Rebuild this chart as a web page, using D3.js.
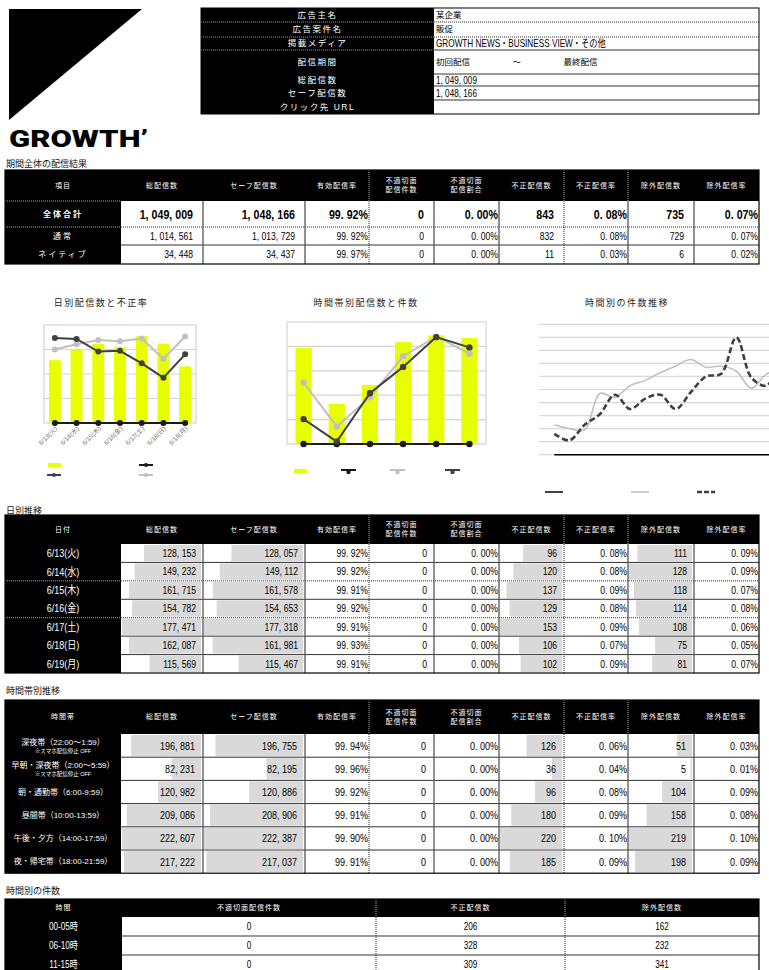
<!DOCTYPE html>
<html lang="ja">
<head>
<meta charset="UTF-8">
<title>配信結果レポート</title>
<script src="https://d3js.org/d3.v7.min.js"></script>
<style>
  body { margin: 0; background: #fff; }
  svg { display: block; font-family: "Liberation Sans", "Noto Sans CJK JP", sans-serif; }
</style>
</head>
<body>
<svg width="769" height="970"></svg>
<script>
// ---------- data ----------
const infoLabels = ["広告主名", "広告案件名", "掲載メディア", "配信期間", "総配信数", "セーフ配信数", "クリック先 URL"];
const infoValues = ["某企業", "販促", "GROWTH NEWS・BUSINESS VIEW・その他", "初回配信　　　　　〜　　　　　最終配信", "1,049,009", "1,048,166", ""];

const metricHeaders = ["総配信数", "セーフ配信数", "有効配信率", ["不適切面", "配信件数"], ["不適切面", "配信割合"],
  "不正配信数", "不正配信率", "除外配信数", "除外配信率"];

const summaryLabels = ["全体合計", "通常", "ネイティブ"];
const summaryTotal = [1049009, 1014561, 34448];
const summarySafe = [1048166, 1013729, 34437];
const summarySafeRate = [99.92, 99.92, 99.97];
const summaryInvalid = [0, 0, 0];
const summaryInvalidRate = [0, 0, 0];
const summaryFraud = [843, 832, 11];
const summaryFraudRate = [0.08, 0.08, 0.03];
const summaryExcl = [735, 729, 6];
const summaryExclRate = [0.07, 0.07, 0.02];

const days = ["6/13(火)", "6/14(水)", "6/15(木)", "6/16(金)", "6/17(土)", "6/18(日)", "6/19(月)"];
const dailyTotal = [128153, 149232, 161715, 154782, 177471, 162087, 115569];
const dailySafe = [128057, 149112, 161578, 154653, 177318, 161981, 115467];
const dailySafeRate = [99.92, 99.92, 99.91, 99.92, 99.91, 99.93, 99.91];
const dailyInvalid = [0, 0, 0, 0, 0, 0, 0];
const dailyInvalidRate = [0, 0, 0, 0, 0, 0, 0];
const dailyFraud = [96, 120, 137, 129, 153, 106, 102];
const dailyFraudRate = [0.08, 0.08, 0.09, 0.08, 0.09, 0.07, 0.09];
const dailyExcl = [111, 128, 118, 114, 108, 75, 81];
const dailyExclRate = [0.09, 0.09, 0.07, 0.08, 0.06, 0.05, 0.07];

const slots = [["深夜帯（22:00〜1:59）", "※スマホ配信停止 OFF"], ["早朝・深夜帯（2:00〜5:59）", "※スマホ配信停止 OFF"],
  "朝・通勤帯（6:00-9:59）", "昼間帯（10:00-13:59）", "午後・夕方（14:00-17:59）", "夜・帰宅帯（18:00-21:59）"];
const slotTotal = [196881, 82231, 120982, 209086, 222607, 217222];
const slotSafe = [196755, 82195, 120886, 208906, 222387, 217037];
const slotSafeRate = [99.94, 99.96, 99.92, 99.91, 99.90, 99.91];
const slotInvalid = [0, 0, 0, 0, 0, 0];
const slotInvalidRate = [0, 0, 0, 0, 0, 0];
const slotFraud = [126, 36, 96, 180, 220, 185];
const slotFraudRate = [0.06, 0.04, 0.08, 0.09, 0.10, 0.09];
const slotExcl = [51, 5, 104, 158, 219, 198];
const slotExclRate = [0.03, 0.01, 0.09, 0.08, 0.10, 0.09];

const hours = d3.range(24);
const hourInvalid = [0, 0, 0, 0, 0, 0, 0, 0, 0, 0, 0, 0, 0, 0, 0, 0];
const hourFraud = [23, 20, 19, 47, 44, 53, 57, 63, 68, 73, 67, 68, 64, 51, 62, 64];
const hourExcl = [16, 11, 23, 31, 46, 35, 43, 46, 35, 48, 60, 62, 90, 59, 53, 77];

const bucketLabels = ["00-05時", "06-10時", "11-15時"];
const bucketInvalid = [0, 0, 0];
const bucketFraud = [206, 328, 309];
const bucketExcl = [162, 232, 341];

// ---------- helpers ----------
const svg = d3.select("svg");
const fmtInt = v => d3.format(",")(v).replace(/,/g, ", ");
const fmtPct = v => d3.format(".2f")(v).replace(".", ". ") + "%";
const YELLOW = "#e8ff00", DARK = "#404040", LIGHT = "#c0c0c0", BLACK = "#1a1a1a";
const SQUEEZE = 0.82;

// condensed text: the report's numerals are narrow
function narrow(g, x, y, anchor, size, txt, opts = {}) {
  return g.append("text")
    .attr("transform", `translate(${x},${y}) scale(${SQUEEZE},1)`)
    .attr("dy", "0.36em").attr("text-anchor", anchor)
    .attr("font-size", size).attr("font-weight", opts.bold ? "bold" : null)
    .attr("fill", opts.fill || "#000").text(txt);
}

function sectionTitle(text, y) {
  svg.append("text").attr("x", 6).attr("y", y).attr("dy", "0.35em")
    .attr("font-size", 9).attr("fill", "#111").text(text);
}

// ---------- logo ----------
svg.append("path").attr("d", "M9,9H142L9,120Z").attr("fill", "#000");
svg.append("text").attr("x", 9).attr("y", 147).attr("font-family", "Roboto, sans-serif")
  .attr("font-weight", 900).attr("font-size", 24).attr("textLength", 139).attr("lengthAdjust", "spacingAndGlyphs")
  .text("GROWTH’");

// ---------- info table ----------
(function () {
  const g = svg.append("g");
  const edges = [8, 22, 37, 50, 74, 86, 100, 114];
  const L = 201, M = 434, R = 759;
  g.append("rect").attr("x", L).attr("y", 8).attr("width", R - L).attr("height", 106).attr("fill", "#fff");
  g.append("rect").attr("x", L).attr("y", 8).attr("width", M - L).attr("height", 106).attr("fill", "#000");
  infoLabels.forEach((s, i) => {
    const cy = (edges[i] + edges[i + 1]) / 2;
    g.append("text").attr("x", (L + M) / 2).attr("y", cy).attr("dy", "0.35em").attr("text-anchor", "middle")
      .attr("fill", "#fff").attr("font-size", 8.5).attr("letter-spacing", 1.5).text(s);
    const v = infoValues[i];
    if (i >= 4) narrow(g, M + 2, cy, "start", 10, v ? v.replace(/,/g, ", ") : v);
    else if (i === 2) narrow(g, M + 2, cy, "start", 10, v);
    else g.append("text").attr("x", M + 2).attr("y", cy).attr("dy", "0.35em").attr("font-size", 8.5).text(v);
    if (i < edges.length - 2) {
      const dotted = i < 2;
      g.append("line").attr("x1", M).attr("x2", R).attr("y1", edges[i + 1]).attr("y2", edges[i + 1])
        .attr("stroke", "#333").attr("stroke-dasharray", dotted ? "1,1" : null);
      if (i < 3) g.append("line").attr("x1", L).attr("x2", M).attr("y1", edges[i + 1]).attr("y2", edges[i + 1])
        .attr("stroke", "#999").attr("stroke-dasharray", "1,1");
    }
  });
  g.append("rect").attr("x", L).attr("y", 8).attr("width", R - L).attr("height", 106)
    .attr("fill", "none").attr("stroke", "#000");
})();

// ---------- generic table ----------
function drawTable(t) {
  const g = svg.append("g");
  const cols = t.cols, L = cols[0], R = cols[cols.length - 1];
  const bodyTop = t.top + t.headH;
  const edges = [bodyTop];
  t.rowH.forEach(h => edges.push(edges[edges.length - 1] + h));
  const B = edges[edges.length - 1];

  g.append("rect").attr("x", L).attr("y", t.top).attr("width", R - L).attr("height", B - t.top).attr("fill", "#fff");
  g.append("rect").attr("x", L).attr("y", t.top).attr("width", R - L).attr("height", t.headH).attr("fill", "#000");
  g.append("rect").attr("x", L).attr("y", bodyTop).attr("width", cols[1] - L).attr("height", B - bodyTop).attr("fill", "#000");

  // data bars (grow from the right edge)
  t.columns.forEach((c, ci) => {
    if (!c.bar) return;
    const x0 = cols[ci + 1], x1 = cols[ci + 2];
    const w = d3.scaleLinear().domain([0, d3.max(c.values)]).range([0, x1 - x0 - 3]);
    c.values.forEach((v, ri) => {
      g.append("rect").attr("x", x1 - 2 - w(v)).attr("y", edges[ri] + 1)
        .attr("width", w(v)).attr("height", edges[ri + 1] - edges[ri] - 2).attr("fill", "#d9d9d9");
    });
  });

  // header labels
  [t.firstHeader].concat(t.headers).forEach((h, i) => {
    const cx = (cols[i] + cols[i + 1]) / 2, cy = t.top + t.headH / 2;
    const lines = Array.isArray(h) ? h : [h];
    lines.forEach((s, k) => {
      g.append("text").attr("x", cx).attr("y", cy + (k - (lines.length - 1) / 2) * 9).attr("dy", "0.35em")
        .attr("text-anchor", "middle").attr("fill", "#fff").attr("font-size", 7).attr("letter-spacing", 1).text(s);
    });
  });

  // row labels
  t.labels.forEach((s, ri) => {
    const cy = (edges[ri] + edges[ri + 1]) / 2, cx = (cols[0] + cols[1]) / 2;
    const bold = t.boldRow === ri;
    if (Array.isArray(s)) {
      g.append("text").attr("x", cx).attr("y", cy - 3.5).attr("dy", "0.35em").attr("text-anchor", "middle")
        .attr("fill", "#fff").attr("font-size", 8).text(s[0]);
      g.append("text").attr("x", cx).attr("y", cy + 5).attr("dy", "0.35em").attr("text-anchor", "middle")
        .attr("fill", "#fff").attr("font-size", 5.5).text(s[1]);
    } else if (t.narrowLabels) {
      narrow(g, cx, cy, "middle", t.labelSize, s, { fill: "#fff" });
    } else {
      g.append("text").attr("x", cx).attr("y", cy).attr("dy", "0.35em").attr("text-anchor", "middle")
        .attr("fill", "#fff").attr("font-size", t.labelSize).attr("font-weight", bold ? "bold" : null)
        .attr("letter-spacing", t.labelSpacing || 0).text(s);
    }
  });

  // cell values
  t.columns.forEach((c, ci) => {
    const x0 = cols[ci + 1], x1 = cols[ci + 2];
    c.values.forEach((v, ri) => {
      const cy = (edges[ri] + edges[ri + 1]) / 2;
      const bold = t.boldRow === ri;
      const txt = c.kind === "pct" ? fmtPct(v) : fmtInt(v);
      let x = x1 - (c.kind === "pct" ? 1 : t.pad), anchor = "end";
      if (t.center) { x = (x0 + x1) / 2; anchor = "middle"; }
      narrow(g, x, cy, anchor, bold ? 13 : t.fontSize, txt, { bold });
    });
  });

  // horizontal rules
  for (let i = 1; i < edges.length - 1; i++) {
    const dotted = t.dotted.includes(i);
    g.append("line").attr("x1", cols[1]).attr("x2", R).attr("y1", edges[i]).attr("y2", edges[i])
      .attr("stroke", "#333").attr("stroke-dasharray", dotted ? "1,1" : null);
    if (dotted) g.append("line").attr("x1", L).attr("x2", cols[1]).attr("y1", edges[i]).attr("y2", edges[i])
      .attr("stroke", "#aaa").attr("stroke-dasharray", "1,1");
  }
  if (t.headRule) g.append("line").attr("x1", L).attr("x2", cols[1]).attr("y1", bodyTop).attr("y2", bodyTop)
    .attr("stroke", "#aaa").attr("stroke-dasharray", "1,1");

  // vertical rules
  for (let k = 2; k < cols.length - 1; k++) {
    const dotted = t.vDotted.includes(k);
    g.append("line").attr("x1", cols[k]).attr("x2", cols[k]).attr("y1", bodyTop).attr("y2", B)
      .attr("stroke", dotted ? "#222" : "#555").attr("stroke-width", dotted ? 1 : 1.3)
      .attr("stroke-dasharray", dotted ? "1,1" : null);
  }
  t.hDotted.forEach(k => {
    g.append("line").attr("x1", cols[k]).attr("x2", cols[k]).attr("y1", t.top).attr("y2", bodyTop)
      .attr("stroke", "#bbb").attr("stroke-dasharray", "1,1");
  });
  g.append("rect").attr("x", L).attr("y", t.top).attr("width", R - L).attr("height", B - t.top)
    .attr("fill", "none").attr("stroke", "#000").attr("stroke-width", 1.2);
}

const colX = [5, 121, 203, 305, 369, 434, 499, 564, 628, 694, 759];
function metricCols(total, safe, safeRate, inv, invRate, fraud, fraudRate, excl, exclRate, bars) {
  return [
    { values: total, kind: "int", bar: bars }, { values: safe, kind: "int", bar: bars },
    { values: safeRate, kind: "pct" }, { values: inv, kind: "int" }, { values: invRate, kind: "pct" },
    { values: fraud, kind: "int", bar: bars }, { values: fraudRate, kind: "pct" },
    { values: excl, kind: "int", bar: bars }, { values: exclRate, kind: "pct" }
  ];
}

// ---------- section 1: summary ----------
sectionTitle("期間全体の配信結果", 164);
drawTable({
  top: 170, headH: 31, rowH: [26, 18, 19], cols: colX, firstHeader: "項目", headers: metricHeaders,
  labels: summaryLabels, labelSize: 8, labelSpacing: 2, boldRow: 0, fontSize: 10.5, pad: 10,
  columns: metricCols(summaryTotal, summarySafe, summarySafeRate, summaryInvalid, summaryInvalidRate,
    summaryFraud, summaryFraudRate, summaryExcl, summaryExclRate, false),
  dotted: [1], vDotted: [4, 7], hDotted: [4, 7, 8], headRule: true
});

// ---------- chart 1: daily ----------
(function () {
  const g = svg.append("g");
  const box = { x0: 44, x1: 196, y0: 325, y1: 423 };
  g.append("text").attr("x", 101).attr("y", 303).attr("dy", "0.35em").attr("text-anchor", "middle")
    .attr("font-size", 9).attr("letter-spacing", 1.5).attr("fill", "#222").text("日別配信数と不正率");
  const x = d3.scaleBand().domain(days).range([box.x0, box.x1]);
  const yBar = d3.scaleLinear().domain([0, 200000]).range([box.y1, box.y0]);
  const yRate = d3.scaleLinear().domain([0, 0.1]).range([box.y1, box.y0]);
  g.append("rect").attr("x", box.x0).attr("y", box.y0).attr("width", box.x1 - box.x0).attr("height", box.y1 - box.y0)
    .attr("fill", "#fff").attr("stroke", "#d4d4d4").attr("stroke-width", 1.2);
  g.selectAll(".grid").data(yBar.ticks(5).slice(1, -1)).join("line")
    .attr("x1", box.x0).attr("x2", box.x1).attr("y1", d => yBar(d)).attr("y2", d => yBar(d))
    .attr("stroke", "#d4d4d4").attr("stroke-width", 1.2);
  const bw = x.bandwidth() * 0.55;
  g.selectAll(".bar").data(dailyTotal).join("rect")
    .attr("x", (d, i) => x(days[i]) + x.bandwidth() / 2 - bw / 2).attr("width", bw)
    .attr("y", d => yBar(d)).attr("height", d => yBar(0) - yBar(d)).attr("fill", YELLOW);
  const cx = i => x(days[i]) + x.bandwidth() / 2;
  const series = [
    { vals: dailyInvalid.map((v, i) => v / dailyTotal[i] * 100), color: BLACK },
    { vals: dailyFraud.map((v, i) => v / dailyTotal[i] * 100), color: LIGHT },
    { vals: dailyExcl.map((v, i) => v / dailyTotal[i] * 100), color: DARK }
  ];
  series.forEach(s => {
    g.append("path").datum(s.vals).attr("fill", "none").attr("stroke", s.color).attr("stroke-width", 2)
      .attr("d", d3.line().x((d, i) => cx(i)).y(d => yRate(d)));
    g.selectAll(null).data(s.vals).join("circle").attr("cx", (d, i) => cx(i)).attr("cy", d => yRate(d))
      .attr("r", 3).attr("fill", s.color);
  });
  g.selectAll(".xl").data(days).join("text")
    .attr("transform", d => `translate(${x(d) + x.bandwidth() / 2 + 3},${box.y1 + 6}) rotate(-45)`)
    .attr("text-anchor", "end").attr("font-size", 6.5).attr("fill", "#777").text(d => d);
  // legend
  g.append("rect").attr("x", 48).attr("y", 463).attr("width", 13).attr("height", 4).attr("fill", YELLOW);
  [[139, 465, BLACK], [47, 475, DARK], [139, 475, LIGHT]].forEach(([lx, ly, c]) => {
    g.append("line").attr("x1", lx).attr("x2", lx + 14).attr("y1", ly).attr("y2", ly).attr("stroke", c).attr("stroke-width", 2);
    g.append("circle").attr("cx", lx + 7).attr("cy", ly).attr("r", 2).attr("fill", c);
  });
})();

// ---------- chart 2: time slots ----------
(function () {
  const g = svg.append("g");
  const box = { x0: 287, x1: 486, y0: 322, y1: 444 };
  g.append("text").attr("x", 366).attr("y", 303).attr("dy", "0.35em").attr("text-anchor", "middle")
    .attr("font-size", 9).attr("letter-spacing", 1.5).attr("fill", "#222").text("時間帯別配信数と件数");
  const idx = d3.range(slotTotal.length);
  const x = d3.scaleBand().domain(idx).range([box.x0, box.x1]);
  const yBar = d3.scaleLinear().domain([0, 250000]).range([box.y1, box.y0]);
  const yCnt = d3.scaleLinear().domain([0, 250]).range([box.y1, box.y0]);
  g.append("rect").attr("x", box.x0).attr("y", box.y0).attr("width", box.x1 - box.x0).attr("height", box.y1 - box.y0)
    .attr("fill", "#fff").attr("stroke", "#d4d4d4").attr("stroke-width", 1.2);
  g.selectAll(".grid").data(yBar.ticks(5).slice(1, -1)).join("line")
    .attr("x1", box.x0).attr("x2", box.x1).attr("y1", d => yBar(d)).attr("y2", d => yBar(d))
    .attr("stroke", "#d4d4d4").attr("stroke-width", 1.2);
  const bw = x.bandwidth() * 0.49;
  g.selectAll(".bar").data(slotTotal).join("rect")
    .attr("x", (d, i) => x(i) + x.bandwidth() / 2 - bw / 2).attr("width", bw)
    .attr("y", d => yBar(d)).attr("height", d => yBar(0) - yBar(d)).attr("fill", YELLOW);
  const cx = i => x(i) + x.bandwidth() / 2;
  [{ vals: slotInvalid, color: BLACK }, { vals: slotFraud, color: LIGHT }, { vals: slotExcl, color: DARK }].forEach(s => {
    g.append("path").datum(s.vals).attr("fill", "none").attr("stroke", s.color).attr("stroke-width", 2)
      .attr("d", d3.line().x((d, i) => cx(i)).y(d => yCnt(d)));
    g.selectAll(null).data(s.vals).join("circle").attr("cx", (d, i) => cx(i)).attr("cy", d => yCnt(d))
      .attr("r", 3.2).attr("fill", s.color);
  });
  g.append("rect").attr("x", 294).attr("y", 469).attr("width", 13).attr("height", 4).attr("fill", YELLOW);
  [[341, BLACK], [390, LIGHT], [445, DARK]].forEach(([lx, c]) => {
    g.append("line").attr("x1", lx).attr("x2", lx + 15).attr("y1", 470).attr("y2", 470).attr("stroke", c).attr("stroke-width", 2);
    g.append("circle").attr("cx", lx + 7.5).attr("cy", 472).attr("r", 2.2).attr("fill", c);
  });
})();

// ---------- chart 3: hourly ----------
(function () {
  const g = svg.append("g");
  g.append("text").attr("x", 627).attr("y", 303).attr("dy", "0.35em").attr("text-anchor", "middle")
    .attr("font-size", 9).attr("letter-spacing", 1.5).attr("fill", "#222").text("時間別の件数推移");
  const x = d3.scalePoint().domain(hours).range([554.3, 554.3 + 23 * 15.17]);
  const y = d3.scaleLinear().domain([0, 100]).range([454.7, 324.3]);
  g.selectAll(".grid").data(y.ticks(10)).join("line")
    .attr("x1", 539).attr("x2", 769).attr("y1", d => y(d)).attr("y2", d => y(d))
    .attr("stroke", "#d9d9d9").attr("stroke-width", 1.2);
  const line = d3.line().x((d, i) => x(hours[i])).y(d => y(d)).curve(d3.curveCatmullRom.alpha(0.5));
  g.append("path").datum(hourInvalid).attr("fill", "none").attr("stroke", "#000").attr("stroke-width", 1.5).attr("d", line);
  g.append("path").datum(hourFraud).attr("fill", "none").attr("stroke", LIGHT).attr("stroke-width", 1.6).attr("d", line);
  g.append("path").datum(hourExcl).attr("fill", "none").attr("stroke", DARK).attr("stroke-width", 2.6)
    .attr("stroke-dasharray", "6,3").attr("d", line);
  [[545, "#000", null, 1.5], [631, LIGHT, null, 1.6], [697, DARK, "5,2", 2.6]].forEach(([lx, c, dash, sw]) => {
    g.append("line").attr("x1", lx).attr("x2", lx + 18).attr("y1", 492).attr("y2", 492)
      .attr("stroke", c).attr("stroke-width", sw).attr("stroke-dasharray", dash);
  });
})();

// ---------- section 2: daily table ----------
sectionTitle("日別推移", 511);
drawTable({
  top: 515, headH: 29, rowH: d3.range(7).map(() => 18.43), cols: colX, firstHeader: "日付", headers: metricHeaders,
  labels: days, labelSize: 11, narrowLabels: true, fontSize: 10.5, pad: 7,
  columns: metricCols(dailyTotal, dailySafe, dailySafeRate, dailyInvalid, dailyInvalidRate,
    dailyFraud, dailyFraudRate, dailyExcl, dailyExclRate, true),
  dotted: [2, 4], vDotted: [4, 7], hDotted: [4, 7, 8]
});

// ---------- section 3: time slot table ----------
sectionTitle("時間帯別推移", 691);
drawTable({
  top: 700, headH: 34, rowH: d3.range(6).map(() => 23.2), cols: colX, firstHeader: "時間帯", headers: metricHeaders,
  labels: slots, labelSize: 8, fontSize: 11, pad: 8,
  columns: metricCols(slotTotal, slotSafe, slotSafeRate, slotInvalid, slotInvalidRate,
    slotFraud, slotFraudRate, slotExcl, slotExclRate, true),
  dotted: [], vDotted: [4, 7], hDotted: [4, 7, 8]
});

// ---------- section 4: hourly buckets ----------
sectionTitle("時間別の件数", 891);
drawTable({
  top: 899, headH: 18, rowH: [19, 19, 19], cols: [5, 122, 376, 565, 759], firstHeader: "時間",
  headers: ["不適切面配信件数", "不正配信数", "除外配信数"], labels: bucketLabels, labelSize: 10, narrowLabels: true,
  fontSize: 10, pad: 8, center: true,
  columns: [{ values: bucketInvalid, kind: "int" }, { values: bucketFraud, kind: "int" }, { values: bucketExcl, kind: "int" }],
  dotted: [], vDotted: [2, 3], hDotted: [2, 3]
});
</script>
</body>
</html>
